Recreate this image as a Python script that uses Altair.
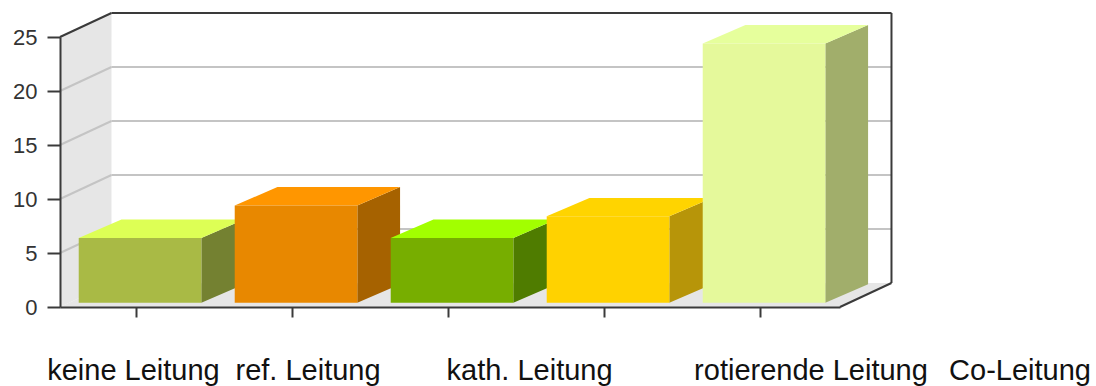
import altair as alt
import pandas as pd

# ---- data -------------------------------------------------------------
categories = ["keine Leitung", "ref. Leitung", "kath. Leitung",
              "rotierende Leitung", "Co-Leitung"]
counts = [6, 9, 6, 8, 24]

front_colors = ["#A9BA45", "#E88800", "#77AE00", "#FFD200", "#E5F99B"]
top_colors = ["#DDFF55", "#FF9600", "#A2FF00", "#FFD400", "#E6FF9C"]
side_colors = ["#748131", "#A66200", "#4F7C00", "#B79509", "#A1AE6B"]

y_ticks = [0, 5, 10, 15, 20, 25]
grid_levels = [5, 10, 15, 20]

# ---- layout (scale units) --------------------------------------------
N = len(categories)
Y_MAX = 25
WALL_DX, WALL_DY = 0.33, 2.22        # depth of the box (back plane offset)
BAR_L, BAR_R = 0.12, 0.906           # front face of a bar inside its slot
BAR_LIFT = 0.4                       # bars stand slightly behind the front edge
BAR_DX, BAR_DY = 0.274, 1.70         # depth of a bar
TICK_POS = [i + 0.485 for i in range(N)]
LABEL_POS = [0.471, 1.590, 3.010, 4.814, 6.154]

FONT = "Liberation Sans"
AXIS_COLOR = "#3a3a3a"
GRID_COLOR = "#c4c4c4"
WALL_COLOR = "#e6e6e6"

XS = alt.Scale(domain=[0, N], nice=False, zero=False)
YS = alt.Scale(domain=[0, Y_MAX], nice=False, zero=False)

X_AXIS = alt.Axis(
    values=TICK_POS, labels=False, title=None, grid=False,
    tickSize=10, tickWidth=2, tickColor=AXIS_COLOR,
    domainColor=AXIS_COLOR, domainWidth=2, zindex=1)
Y_AXIS = alt.Axis(
    values=y_ticks, title=None, grid=False, tickSize=13, tickWidth=2,
    tickColor=AXIS_COLOR, domainColor=AXIS_COLOR, domainWidth=2,
    labelFont=FONT, labelFontSize=22, labelColor="#333333",
    labelPadding=10, zindex=1)


def xq(field, **kw):
    return alt.X(field, type="quantitative", scale=XS, axis=X_AXIS, **kw)


def yq(field, **kw):
    return alt.Y(field, type="quantitative", scale=YS, axis=Y_AXIS, **kw)


# ---- box: left wall and floor ----------------------------------------
wall_df = pd.DataFrame({
    "x": [0, WALL_DX],
    "y": [0, WALL_DY],
    "y2": [Y_MAX, Y_MAX + WALL_DY],
})
wall = alt.Chart(wall_df).mark_area(color=WALL_COLOR, interpolate="linear").encode(
    x=xq("x"), y=yq("y", stack=None), y2="y2"
)

floor_df = pd.DataFrame({
    "y": [0, WALL_DY],
    "x": [0, WALL_DX],
    "x2": [N, N + WALL_DX],
})
floor = alt.Chart(floor_df).mark_area(
    color=WALL_COLOR, orient="horizontal", interpolate="linear"
).encode(y=yq("y"), x=xq("x", stack=None), x2="x2")

# ---- grid lines on back plane and left wall ---------------------------
back_grid_df = pd.DataFrame({
    "x": [WALL_DX] * len(grid_levels),
    "x2": [N + WALL_DX] * len(grid_levels),
    "y": [v + WALL_DY for v in grid_levels],
})
back_grid = alt.Chart(back_grid_df).mark_rule(color=GRID_COLOR, strokeWidth=2).encode(
    x=xq("x"), x2="x2", y=yq("y")
)

wall_grid_df = pd.DataFrame({
    "x": [0] * len(grid_levels),
    "x2": [WALL_DX] * len(grid_levels),
    "y": grid_levels,
    "y2": [v + WALL_DY for v in grid_levels],
})
wall_grid = alt.Chart(wall_grid_df).mark_rule(color=GRID_COLOR, strokeWidth=2).encode(
    x=xq("x"), x2="x2", y=yq("y"), y2="y2"
)

# ---- box frame edges ---------------------------------------------------
frame_df = pd.DataFrame({
    "x":  [WALL_DX, N + WALL_DX, 0, N],
    "x2": [N + WALL_DX, N + WALL_DX, WALL_DX, N + WALL_DX],
    "y":  [Y_MAX + WALL_DY, WALL_DY, Y_MAX, 0],
    "y2": [Y_MAX + WALL_DY, Y_MAX + WALL_DY, Y_MAX + WALL_DY, WALL_DY],
})
frame = alt.Chart(frame_df).mark_rule(color=AXIS_COLOR, strokeWidth=2).encode(
    x=xq("x"), x2="x2", y=yq("y"), y2="y2"
)

# ---- bars ---------------------------------------------------------------
side_rows, top_rows, front_rows = [], [], []
for i, (cat, v) in enumerate(zip(categories, counts)):
    right = i + BAR_R
    left = i + BAR_L
    base, top = BAR_LIFT, BAR_LIFT + v
    side_rows += [
        {"bar": cat, "x": right, "y": base, "y2": top, "fill": side_colors[i]},
        {"bar": cat, "x": right + BAR_DX, "y": base + BAR_DY,
         "y2": top + BAR_DY, "fill": side_colors[i]},
    ]
    top_rows += [
        {"bar": cat, "y": top, "x": left, "x2": right, "fill": top_colors[i]},
        {"bar": cat, "y": top + BAR_DY, "x": left + BAR_DX,
         "x2": right + BAR_DX, "fill": top_colors[i]},
    ]
    front_rows.append({"bar": cat, "x": left, "x2": right, "y": base,
                       "y2": top, "fill": front_colors[i]})

sides = alt.Chart(pd.DataFrame(side_rows)).mark_area(interpolate="linear").encode(
    x=xq("x"), y=yq("y", stack=None), y2="y2",
    color=alt.Color("fill:N", scale=None), detail="bar:N"
)
tops = alt.Chart(pd.DataFrame(top_rows)).mark_area(
    orient="horizontal", interpolate="linear"
).encode(
    y=yq("y"), x=xq("x", stack=None), x2="x2",
    color=alt.Color("fill:N", scale=None), detail="bar:N"
)
fronts = alt.Chart(pd.DataFrame(front_rows)).mark_rect().encode(
    x=xq("x"), x2="x2", y=yq("y"), y2="y2",
    color=alt.Color("fill:N", scale=None)
)

# ---- category labels -----------------------------------------------------
label_df = pd.DataFrame({"label": categories, "pos": LABEL_POS})
labels = alt.Chart(label_df).mark_text(
    font=FONT, fontSize=29, color="#111111", align="center",
    baseline="alphabetic"
).encode(
    x=xq("pos"), y=alt.value(343), text="label:N"
)

chart = alt.layer(
    wall, floor, back_grid, wall_grid, frame, sides, tops, fronts, labels
).properties(
    width=780, height=270,
    autosize=alt.AutoSizeParams(type="none"),
    padding={"left": 60, "top": 37, "right": 256, "bottom": 79},
    background="white",
).configure_view(stroke=None)

chart.save("out.html", embed_options={"renderer": "svg", "actions": False})
